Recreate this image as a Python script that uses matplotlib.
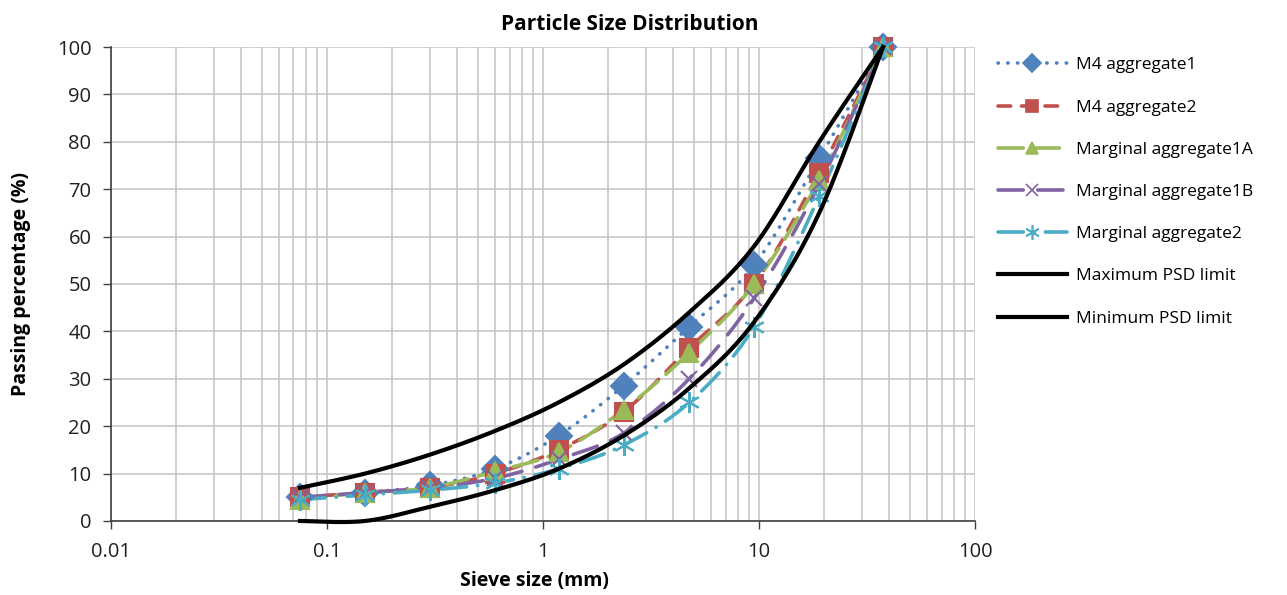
import numpy as np
import matplotlib
matplotlib.use("Agg")
import matplotlib.pyplot as plt
from matplotlib.lines import Line2D
from matplotlib.ticker import LogLocator, FixedLocator, NullFormatter

plt.rcParams['font.family'] = ['Open Sans', 'DejaVu Sans']

# sieve sizes (mm)
sieve = [0.075, 0.15, 0.3, 0.6, 1.18, 2.36, 4.75, 9.5, 19, 37.5]

m4_agg1 = [5, 6, 7.5, 11, 18, 28.5, 41, 54, 76.5, 100]
m4_agg2 = [5, 6, 7, 10, 15, 23, 36.5, 50, 73.5, 100]
marg_1a = [4.5, 6, 7, 10.5, 14.5, 23.5, 35.5, 50, 72, 100]
marg_1b = [5, 6, 7, 9, 13, 18.5, 30, 47, 71, 100]
marg_2 = [4.5, 5.5, 6.5, 8, 11, 16, 25, 41, 68.5, 100]
psd_max = [7, 10, 14, 19, 25, 33, 44, 58, 80, 100]
psd_min = [0, 0, 3, 6.5, 11, 18, 28, 42, 65, 100]

x_ticks = [0.01, 0.1, 1, 10, 100]
x_labels = ['0.01', '0.1', '1', '10', '100']


def smooth(ax, xs, ys, n=30):
    """catmull-rom curve through the points, built in display space
    so it looks like excel's smoothed line"""
    pts = ax.transData.transform(np.column_stack([xs, ys]))
    pts = np.vstack([pts[0], pts, pts[-1]])
    out = []
    t = np.linspace(0, 1, n)[:, None]
    for i in range(1, len(pts) - 2):
        p0, p1, p2, p3 = pts[i - 1], pts[i], pts[i + 1], pts[i + 2]
        c1 = p1 + (p2 - p0) / 6
        c2 = p2 - (p3 - p1) / 6
        seg = ((1 - t) ** 3) * p1 + 3 * ((1 - t) ** 2) * t * c1 \
            + 3 * (1 - t) * t ** 2 * c2 + t ** 3 * p2
        out.append(seg)
    out = np.vstack(out)
    data = ax.transData.inverted().transform(out)
    return data[:, 0], data[:, 1]


fig = plt.figure(figsize=(12.87, 5.95), dpi=100)
ax = fig.add_axes([0.0862, 0.1244, 0.6714, 0.7966])
ax.set_xscale('log')
ax.set_xlim(0.01, 100)
ax.set_ylim(0, 100)

series = [
    ('M4 aggregate1', m4_agg1, '#4F81BD', (0, (0.1, 2.6)), 'D', 13),
    ('M4 aggregate2', m4_agg2, '#C0504D', (0, (3.5, 3)), 's', 12.5),
    ('Marginal aggregate1A', marg_1a, '#9BBB59', (0, (7, 3)), '^', 13),
    ('Marginal aggregate1B', marg_1b, '#8064A2', (0, (7, 4)), 'x', 12),
    ('Marginal aggregate2', marg_2, '#4BACC6', (0, (7, 3, 0.1, 3)), (6, 2, 0), 15),
]

handles = []
for label, vals, color, ls, mk, ms in series:
    sx, sy = smooth(ax, sieve, vals)
    ax.plot(sx, sy, color=color, lw=2.6, linestyle=ls,
            dash_capstyle='round', solid_capstyle='round', zorder=3,
            clip_on=False)
    ax.plot(sieve, vals, linestyle='none', marker=mk, markersize=ms,
            color=color, markeredgecolor=color, markeredgewidth=1.5,
            zorder=4, clip_on=False)
    handles.append(Line2D([], [], color=color, lw=2.6, linestyle=ls,
                          dash_capstyle='round', marker=mk, markersize=ms * 0.7,
                          markeredgewidth=1.2, label=label))

for label, vals in [('Maximum PSD limit', psd_max), ('Minimum PSD limit', psd_min)]:
    sx, sy = smooth(ax, sieve, vals)
    ax.plot(sx, sy, color='black', lw=3, zorder=5, clip_on=False)
    handles.append(Line2D([], [], color='black', lw=3, label=label))

# grid like the excel sheet
ax.xaxis.set_major_locator(FixedLocator(x_ticks))
ax.set_xticklabels(x_labels)
ax.xaxis.set_minor_locator(LogLocator(base=10, subs=np.arange(2, 10)))
ax.xaxis.set_minor_formatter(NullFormatter())
ax.set_yticks(np.arange(0, 101, 10))
ax.grid(True, which='both', axis='x', color='#C8C8C8', lw=1.2)
ax.grid(True, which='major', axis='y', color='#C8C8C8', lw=1.2)
ax.set_axisbelow(True)
ax.tick_params(axis='both', which='major', direction='out', length=6,
               width=1, color='#404040', labelsize=14.5, labelcolor='#202020')
ax.tick_params(axis='x', which='minor', length=0)
ax.tick_params(axis='x', pad=9)
ax.tick_params(axis='y', pad=8)
for side in ['top', 'right']:
    ax.spines[side].set_visible(False)
for side in ['left', 'bottom']:
    ax.spines[side].set_color('#404040')
    ax.spines[side].set_linewidth(1.2)

ax.set_xlabel('Sieve size (mm)', fontsize=14, fontweight='bold')
ax.xaxis.set_label_coords(0.49, -0.105)
ax.set_ylabel('Passing percentage (%)', fontsize=14, fontweight='bold')
ax.yaxis.set_label_coords(-0.092, 0.5)
fig.text(630 / 1287, 1 - 24 / 595, 'Particle Size Distribution', ha='center',
         va='center', fontsize=15, fontweight='bold')

fig.legend(handles=handles, loc='upper left', bbox_to_anchor=(0.763, 0.93),
           frameon=False, fontsize=12.5, handlelength=4.0, labelspacing=1.5,
           numpoints=1, handletextpad=0.5)

fig.savefig('out.png', dpi=100)
